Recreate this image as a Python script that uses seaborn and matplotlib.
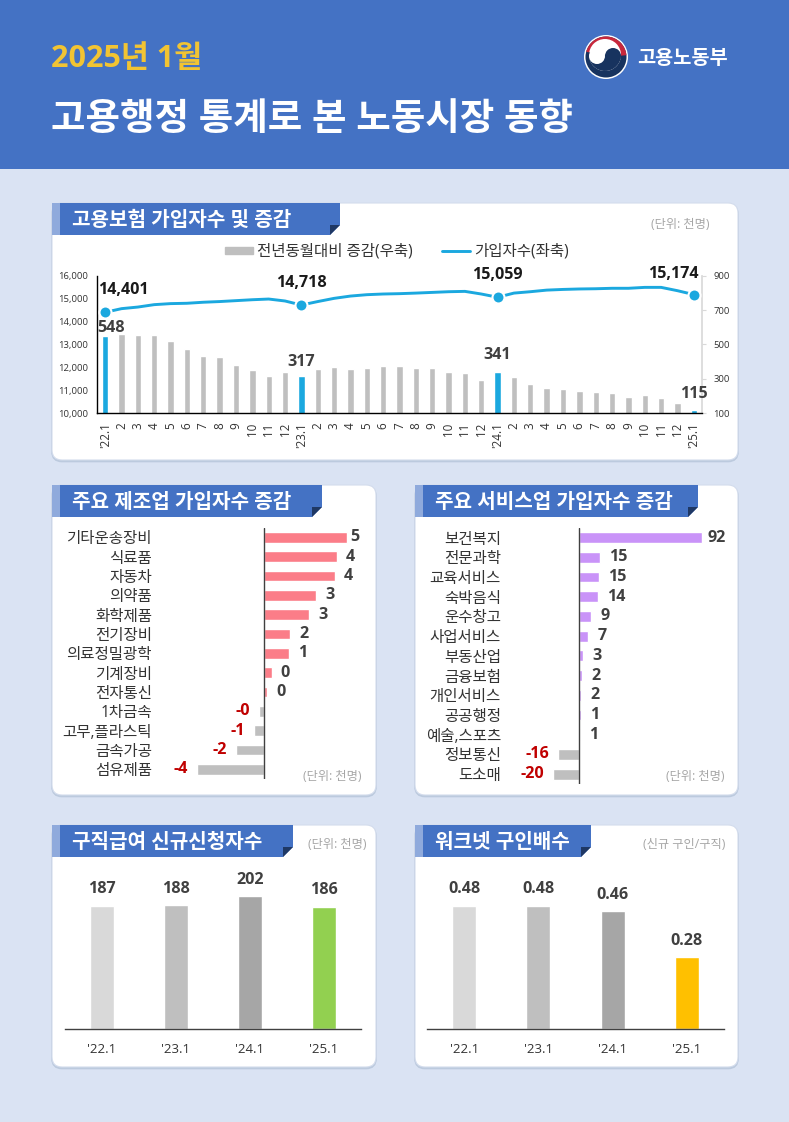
import matplotlib
matplotlib.use("Agg")
import matplotlib.pyplot as plt
from matplotlib.lines import Line2D
from matplotlib.patches import Circle, FancyBboxPatch, Patch, Polygon, Rectangle, Wedge
import numpy as np
import seaborn as sns

W, H = 789, 1122

# monthly series
month_labels = ["'22.1", "2", "3", "4", "5", "6", "7", "8", "9", "10", "11", "12",
                "'23.1", "2", "3", "4", "5", "6", "7", "8", "9", "10", "11", "12",
                "'24.1", "2", "3", "4", "5", "6", "7", "8", "9", "10", "11", "12",
                "'25.1"]
subscribers = [14401, 14560, 14630, 14735, 14780, 14795, 14840, 14870, 14910, 14950, 14980, 14895,
               14718, 14870, 15010, 15110, 15170, 15200, 15215, 15240, 15270, 15300, 15315, 15200,
               15059, 15240, 15300, 15370, 15400, 15420, 15430, 15450, 15450, 15490, 15490, 15345,
               15174]
yoy_change = [548, 563, 555, 555, 520, 474, 431, 426, 377, 350, 317, 340,
              317, 356, 369, 356, 365, 375, 371, 362, 360, 340, 334, 294,
              341, 311, 270, 243, 240, 226, 222, 218, 195, 207, 187, 158,
              115]

# manufacturing
mfg_labels = ["기타운송장비", "식료품", "자동차", "의약품", "화학제품", "전기장비", "의료정밀광학",
              "기계장비", "전자통신", "1차금속", "고무,플라스틱", "금속가공", "섬유제품"]
mfg_values = [4.98, 4.4, 4.27, 3.13, 2.73, 1.57, 1.49, 0.46, 0.18, -0.28, -0.62, -1.69, -4.05]

# services
svc_labels = ["보건복지", "전문과학", "교육서비스", "숙박음식", "운수창고", "사업서비스", "부동산업",
              "금융보험", "개인서비스", "공공행정", "예술,스포츠", "정보통신", "도소매"]
svc_values = [92, 15.4, 14.8, 14.0, 9.0, 6.8, 2.8, 2.3, 1.6, 1.0, 0.6, -15.8, -19.6]

# january comparisons
jan_labels = ["'22.1", "'23.1", "'24.1", "'25.1"]
claims = [187, 188, 202, 186]
job_ratio = [0.48, 0.48, 0.46, 0.28]

sns.set_theme(style="white")
plt.rcParams['font.family'] = ['Open Sans', 'Noto Sans CJK KR', 'DejaVu Sans']
plt.rcParams['axes.unicode_minus'] = False

TXT = '#333333'
VAL = '#404040'
BLUE = '#4472c4'
LINE = '#1ba8df'
GREY = '#bfbfbf'

fig = plt.figure(figsize=(W / 100, H / 100), dpi=100)
bg = fig.add_axes([0, 0, 1, 1], zorder=0)
bg.set_xlim(0, W)
bg.set_ylim(H, 0)
bg.axis('off')
bg.add_patch(Rectangle((0, 0), W, H, color='#dae3f3', lw=0))
bg.add_patch(Rectangle((0, 0), W, 169, color=BLUE, lw=0))


def axes_px(x0, y0, x1, y1):
    a = fig.add_axes([x0 / W, 1 - y1 / H, (x1 - x0) / W, (y1 - y0) / H], zorder=2)
    a.patch.set_visible(False)
    return a


def card(x0, y0, x1, y1, tab_end, title, title_x):
    bg.add_patch(FancyBboxPatch((x0, y0 + 1.5), x1 - x0, y1 - y0, boxstyle="round,pad=0,rounding_size=10",
                                fc='#bccade', ec='#bccade', lw=1.2))
    bg.add_patch(FancyBboxPatch((x0, y0), x1 - x0, y1 - y0, boxstyle="round,pad=0,rounding_size=10",
                                fc='white', ec='#d3dcec', lw=0.8))
    bg.add_patch(Rectangle((x0, y0), 8, 32, color='#8faadc', lw=0))
    t = x0 + 8
    b = y0 + 32
    bg.add_patch(Polygon([(t, y0), (tab_end, y0), (tab_end, b - 10), (tab_end - 10, b), (t, b)], color=BLUE, lw=0))
    bg.add_patch(Polygon([(tab_end - 10, b - 10), (tab_end, b - 10), (tab_end - 10, b)], color='#1f3864', lw=0))
    bg.text(title_x, y0 + 17.5, title, color='white', fontsize=14.5, fontweight='bold', va='center', ha='left')


def unit(x, y, s):
    bg.text(x, y, s, color='#a6a6a6', fontsize=8.8, ha='right', va='center')


# header
bg.text(51, 59, "2025년 1월", color='#f2c433', fontsize=22, fontweight='bold', va='center')
bg.text(51, 120, "고용행정 통계로 본 노동시장 동향", color='white', fontsize=27, fontweight='bold', va='center')
bg.text(637, 59, "고용노동부", color='white', fontsize=14.2, fontweight='bold', va='center')

# logo
lx, ly = 606, 57
bg.add_patch(Circle((lx, ly), 22, color='white', lw=0))
bg.add_patch(Circle((lx, ly), 20.5, color='#17335f', lw=0))
bg.add_patch(Wedge((lx, ly), 20.5, 195, 355, color='#c8283c', lw=0))
bg.add_patch(Circle((lx - 1, ly - 2), 16, color='white', lw=0))
bg.add_patch(Wedge((lx - 1, ly - 2), 16, 10, 190, color='#17335f', lw=0))
bg.add_patch(Circle((lx + 7, ly - 1), 8, color='#17335f', lw=0))
bg.add_patch(Circle((lx - 9, ly - 1), 8, color='white', lw=0))

# cards
card(52, 203, 738, 460, 340, "고용보험 가입자수 및 증감", 72)
card(52, 485, 376, 795, 322, "주요 제조업 가입자수 증감", 72)
card(415, 485, 738, 795, 698, "주요 서비스업 가입자수 증감", 435)
card(52, 825, 376, 1067, 293, "구직급여 신규신청자수", 72)
card(415, 825, 738, 1067, 591, "워크넷 구인배수", 435)
unit(710, 224, "(단위: 천명)")
unit(362, 776, "(단위: 천명)")
unit(725, 776, "(단위: 천명)")
unit(367, 844, "(단위: 천명)")
unit(725, 844, "(신규 구인/구직)")

# top combo chart
x = np.arange(len(month_labels))
highlight = [0, 12, 24, 36]
bar_cols = [LINE if i in highlight else GREY for i in x]

ax = axes_px(97, 275.7, 702, 413)
sns.barplot(x=x, y=yoy_change, hue=x, palette=bar_cols, dodge=False, width=0.39, saturation=1,
            legend=False, ax=ax)
ax.set_ylim(100, 900)
ax.set_yticks([100, 300, 500, 700, 900])
ax.set_xticks(x)
ax.set_xticklabels(month_labels, rotation=90, fontsize=8.4, color=TXT)
ax.tick_params(axis='x', length=0, pad=7)
ax.set_xlabel('')
ax.set_ylabel('')

ax_line = ax.twinx()
ax_line.patch.set_visible(False)
sns.lineplot(x=x, y=subscribers, color=LINE, lw=2.1, ax=ax_line)
sns.scatterplot(x=x[highlight], y=np.array(subscribers)[highlight], color=LINE, s=75, edgecolor='white',
                linewidth=1.5, zorder=5, ax=ax_line, clip_on=False)
ax_line.set_ylim(10000, 16000)
ax_line.set_xlim(-0.5, 36.5)
ax_line.set_yticks(range(10000, 16001, 1000))
ax_line.set_yticklabels([f"{v:,}" for v in range(10000, 16001, 1000)])
ax_line.yaxis.tick_left()
ax_line.tick_params(axis='y', length=0, labelsize=6.8, labelcolor=TXT, pad=6.5)
ax_line.set_ylabel('')
for s in ['top', 'right', 'bottom']:
    ax_line.spines[s].set_visible(False)
ax_line.spines['left'].set_color('black')
ax_line.spines['left'].set_linewidth(1)

# twinx moves the bar axis ticks, so put them back on the right here
ax.yaxis.tick_right()
ax.tick_params(axis='y', right=True, left=False, length=3, width=0.8, color='#d9d9d9', labelsize=6.8,
               labelcolor=TXT, pad=5)
for s in ['top', 'left']:
    ax.spines[s].set_visible(False)
ax.spines['right'].set_color('#d9d9d9')
ax.spines['bottom'].set_color('black')
ax.spines['bottom'].set_linewidth(1)

line_off = {0: (13, 16), 12: (0, 16), 24: (0, 16), 36: (-15, 15)}
bar_off = {0: (4, 6), 12: (0, 10), 24: (0, 12), 36: (0, 12)}
for i in highlight:
    ax_line.annotate(f"{subscribers[i]:,}", (i, subscribers[i]), xytext=line_off[i], textcoords='offset points',
                     ha='center', va='center', fontsize=11.6, fontweight='bold', color='#1a1a1a')
    ax.annotate(f"{yoy_change[i]}", (i, yoy_change[i]), xytext=bar_off[i], textcoords='offset points',
                ha='center', va='center', fontsize=11.6, fontweight='bold', color=VAL)

handles = [Patch(color=GREY), Line2D([0], [0], color=LINE, lw=2.1)]
fig.legend(handles, ["전년동월대비 증감(우축)", "가입자수(좌축)"], ncol=2, frameon=False, fontsize=11.2,
           loc='center', bbox_to_anchor=(397 / W, 1 - 252 / H), labelcolor=TXT, handlelength=1.8, handleheight=0.4,
           handletextpad=0.25, columnspacing=1.9, borderpad=0)


def hbar(box, zero_px, scale, labels, values, pos_col, first_gap):
    a = axes_px(*box)
    cols = [pos_col if v > 0 else GREY for v in values]
    sns.barplot(x=values, y=labels, hue=labels, palette=cols, dodge=False, width=0.55, saturation=1,
                orient='h', legend=False, ax=a)
    a.set_xlim((box[0] - zero_px) / scale, (box[2] - zero_px) / scale)
    a.set_ylim(len(labels) - 0.5, -0.5)
    a.axvline(0, color=VAL, lw=1)
    a.set_xticks([])
    a.set_xlabel('')
    a.set_ylabel('')
    a.tick_params(axis='y', length=0, pad=0, labelsize=11.2, labelcolor=TXT)
    sns.despine(ax=a, left=True, bottom=True)
    for i, v in enumerate(values):
        gap = first_gap if i == 0 else 6.5
        a.annotate(f"{v:.0f}", (v, i), xytext=(gap if v > 0 else -gap, 0), textcoords='offset points',
                   ha='left' if v > 0 else 'right', va='center', fontsize=11.6, fontweight='bold',
                   color=VAL if v > 0 else '#c00000')


hbar((152, 527.8, 372, 779), 264, 16.6, mfg_labels, mfg_values, '#fb7d88', 2.4)
hbar((501, 527.7, 735, 784), 579.3, 1.33, svc_labels, svc_values, '#c993f8', 4.2)


def vbar(box, labels, values, cols, top, fmt):
    a = axes_px(*box)
    sns.barplot(x=labels, y=values, hue=labels, palette=cols, dodge=False, width=0.32, saturation=1,
                legend=False, ax=a)
    a.set_ylim(0, top)
    a.set_yticks([])
    a.set_xlabel('')
    a.set_ylabel('')
    a.tick_params(axis='x', length=0, pad=10, labelsize=9.5, labelcolor=TXT)
    sns.despine(ax=a, left=True)
    a.spines['bottom'].set_color(VAL)
    a.spines['bottom'].set_linewidth(1)
    for i, v in enumerate(values):
        a.annotate(fmt.format(v), (i, v), xytext=(0, 12), textcoords='offset points', ha='center', va='center',
                   fontsize=11.6, fontweight='bold', color=VAL)


vbar((65, 860, 361, 1029), jan_labels, claims, ['#d9d9d9', GREY, '#a6a6a6', '#92d050'], 257, "{:.0f}")
vbar((427, 860, 724, 1029), jan_labels, job_ratio, ['#d9d9d9', GREY, '#a6a6a6', '#ffc000'], 0.66, "{:.2f}")

fig.savefig("out.png", dpi=100)
